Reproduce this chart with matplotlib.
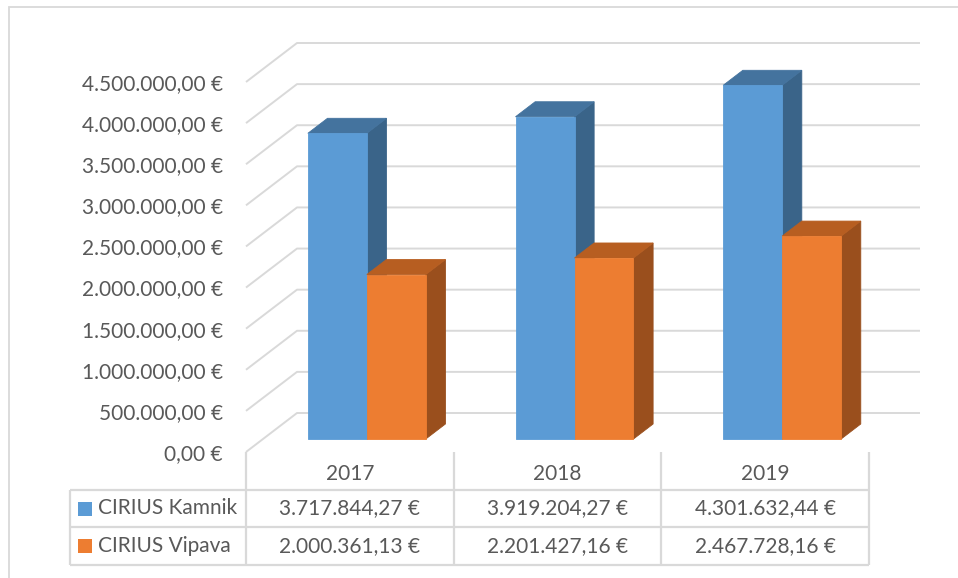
import matplotlib
matplotlib.use("Agg")
import matplotlib.pyplot as plt
from matplotlib.patches import Polygon, Rectangle

# podatki
leta = ['2017', '2018', '2019']
kamnik = [3717844.27, 3919204.27, 4301632.44]
vipava = [2000361.13, 2201427.16, 2467728.16]
serije = ['CIRIUS Kamnik', 'CIRIUS Vipava']
yticks = [0, 500000, 1000000, 1500000, 2000000, 2500000, 3000000,
          3500000, 4000000, 4500000]


def euro(v):
    """Format 1.234.567,89 €"""
    s = f"{v:,.2f}".replace(',', 'X').replace('.', ',').replace('X', '.')
    return s + ' €'


W, H = 958, 578
fig = plt.figure(figsize=(W / 100, H / 100), dpi=100)
plt.rcParams['font.family'] = ['Lato', 'DejaVu Sans']
tc = '#595959'
grid = '#D9D9D9'
fs = 15

# okvir grafa
fig.add_artist(Rectangle((9 / W, -0.1), 2, 1 - 7 / H + 0.1, fill=False,
                         edgecolor=grid, lw=1.3, transform=fig.transFigure))

# glavna os = sprednja ravnina
x0, x1, y0, y1 = 246, 869, 452, 82
ax = fig.add_axes([x0 / W, 1 - y0 / H, (x1 - x0) / W, (y0 - y1) / H])
ax.set_xlim(-0.5, len(leta) - 0.5)
ax.set_ylim(0, 4500000)
for s in ax.spines.values():
    s.set_visible(False)
ax.set_facecolor('none')
ax.set_xticks([])
ax.set_yticks(yticks)
ax.set_yticklabels([euro(v) for v in yticks])
ax.tick_params(axis='y', length=0, pad=16.5, labelsize=fs, labelcolor=tc)

# poševna projekcija (globina)
px_x = (x1 - x0) / len(leta)
px_y = (y0 - y1) / 4500000
DX = 51 / px_x
DY = 39 / px_y


def proj(x, v, d):
    return (x + d * DX, v + d * DY)


# mreža: leva stena + zadnja stena
for v in yticks:
    pts = [proj(-0.5, v, 0), proj(-0.5, v, 1), proj(len(leta) - 0.5, v, 1)]
    ax.plot([p[0] for p in pts], [p[1] for p in pts], color=grid, lw=1.4,
            clip_on=False, zorder=1, solid_capstyle='butt')

# stolpci
BW = 0.284
d0, d1 = 1 / 3, 1 / 3 + 0.385
barve = [('#5B9BD5', '#44739E', '#3A6489'),
         ('#ED7D31', '#B75E21', '#9A4F1D')]
for i in range(len(leta)):
    for k, vals in enumerate([kamnik, vipava]):
        v = vals[i]
        xa = i - BW + k * BW
        xb = xa + BW
        front, top, side = barve[k]
        sp = [proj(xb, 0, d0), proj(xb, 0, d1), proj(xb, v, d1), proj(xb, v, d0)]
        tp = [proj(xa, v, d0), proj(xb, v, d0), proj(xb, v, d1), proj(xa, v, d1)]
        fp = [proj(xa, 0, d0), proj(xb, 0, d0), proj(xb, v, d0), proj(xa, v, d0)]
        for poly, c in [(sp, side), (tp, top), (fp, front)]:
            ax.add_patch(Polygon(poly, closed=True, facecolor=c, edgecolor=c,
                                 lw=0.6, clip_on=False, zorder=3))

# podatkovna tabela
tx0, ty0, ty1 = 70, 452, 565
tax = fig.add_axes([tx0 / W, 1 - ty1 / H, (x1 - tx0) / W, (ty1 - ty0) / H])
left = -0.5 - (x0 - tx0) / px_x
tax.set_xlim(left, len(leta) - 0.5)
tax.set_ylim(3, 0)
tax.axis('off')
lk = dict(color=grid, lw=1.6, clip_on=False, solid_capstyle='butt')
for xv in [-0.5 + j for j in range(len(leta) + 1)]:
    tax.plot([xv, xv], [0, 3], **lk)
tax.plot([left, left], [1, 3], **lk)
for yv in [1, 2, 3]:
    tax.plot([left, len(leta) - 0.5], [yv, yv], **lk)

for i, l in enumerate(leta):
    tax.text(i, 0.58, l, ha='center', va='center', fontsize=fs, color=tc)
    tax.text(i, 1.5, euro(kamnik[i]), ha='center', va='center', fontsize=fs,
             color=tc)
    tax.text(i, 2.5, euro(vipava[i]), ha='center', va='center', fontsize=fs,
             color=tc)

ksz_x = 14 / px_x
ksz_y = 14 / ((ty1 - ty0) / 3)
for r, (ime, barva) in enumerate(zip(serije, [barve[0][0], barve[1][0]])):
    tax.add_patch(Rectangle((left + 8 / px_x, 1.5 + r - ksz_y / 2), ksz_x,
                            ksz_y, facecolor=barva, edgecolor='none',
                            clip_on=False))
    tax.text(left + 28 / px_x, 1.5 + r, ime, ha='left', va='center',
             fontsize=fs, color=tc)

fig.savefig('out.png', dpi=100)
